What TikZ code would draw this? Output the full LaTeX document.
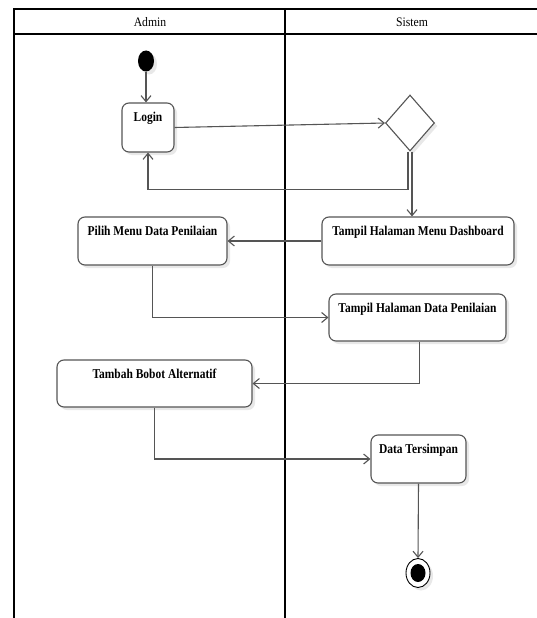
\documentclass[tikz,border=0pt]{standalone}
\usepackage{fontspec}
\setmainfont{Liberation Serif}
\newfontfamily\boxfont[FakeStretch=0.85]{Liberation Serif}
\newfontfamily\headfont[FakeStretch=0.9]{Liberation Serif}
\usetikzlibrary{arrows.meta,shapes.geometric,shadows}
\definecolor{edgegray}{HTML}{555555}
\begin{document}
\begin{tikzpicture}[x=1pt,y=-1pt,
  shadowed/.style={drop shadow={shadow xshift=3pt,shadow yshift=-3pt,opacity=0.18,fill=black!50}},
  act/.style={draw=edgegray, line width=1.1pt, rounded corners=7pt, fill=white, inner sep=0pt, shadowed},
  lbltxt/.style={anchor=north, inner sep=0pt, yshift=-9pt, font=\boxfont\bfseries\fontsize{13.5}{15}\selectfont},
  flow/.style={draw=edgegray, line width=1.1pt, -{Straight Barb[length=6pt,width=10pt]}},
  lane/.style={draw=black, line width=1.3pt},
  headtxt/.style={font=\headfont\fontsize{13}{15}\selectfont, inner sep=0pt},
  decision/.style={diamond, draw=edgegray, line width=1.1pt, fill=white, inner sep=0pt, minimum width=49pt, minimum height=56pt, shadowed},
  startdot/.style={ellipse, fill=black, inner sep=0pt, minimum width=16pt, minimum height=21pt, shadowed},
  endring/.style={ellipse, draw=black, line width=0.9pt, fill=white, inner sep=0pt, minimum width=24pt, minimum height=29pt, shadowed}
]
\useasboundingbox (0,0) rectangle (537,618);
\fill[white] (0,0) rectangle (537,618);

% swimlanes
\draw[lane] (537,9) -- (14,9) -- (14,618);
\draw[lane] (14,34) -- (537,34);
\draw[lane] (285,9) -- (285,618);
\node[headtxt] (hadmin) at (150,22) {Admin};
\node[headtxt] (hsistem) at (412,22) {Sistem};

% nodes
\node[startdot] (start) at (146,61) {};
\node[act, minimum width=52pt, minimum height=49pt, label={[lbltxt]north:{Login}}] (login) at (148,127.5) {};
\node[decision] (dec) at (410,123) {};
\node[act, minimum width=149pt, minimum height=48pt, label={[lbltxt]north:{Pilih Menu Data Penilaian}}] (pilih) at (152.5,241) {};
\node[act, minimum width=192pt, minimum height=48pt, label={[lbltxt]north:{Tampil Halaman Menu Dashboard}}] (dash) at (418,241) {};
\node[act, minimum width=177pt, minimum height=47pt, label={[lbltxt]north:{Tampil Halaman Data Penilaian}}] (datap) at (417.5,317.5) {};
\node[act, minimum width=195pt, minimum height=47pt, label={[lbltxt]north:{Tambah Bobot Alternatif}}] (tambah) at (154.5,383.5) {};
\node[act, minimum width=95pt, minimum height=48pt, label={[lbltxt]north:{Data Tersimpan}}] (simpan) at (418.5,459) {};
\node[endring] (end) at (418,573) {};
\fill[black] (end.center) ellipse [x radius=7.5pt, y radius=9pt];

% connectors
\draw[flow] (start.south) -- (start.south |- login.north);
\draw[flow] (login.east) -- (dec.west);
\draw[flow] ([xshift=-2pt]dec.south) -- ++(0,38) -| (login.south);
\draw[flow] ([xshift=2pt]dec.south) -- ([xshift=2pt]dec.south |- dash.north);
\draw[flow] (dash.west) -- (pilih.east);
\draw[flow] (pilih.south) |- (datap.west);
\draw[flow] ([xshift=2pt]datap.south) |- (tambah.east);
\draw[flow] (tambah.south) |- (simpan.west);
\draw[flow] (simpan.south) -- (end.north);
\end{tikzpicture}
\end{document}
